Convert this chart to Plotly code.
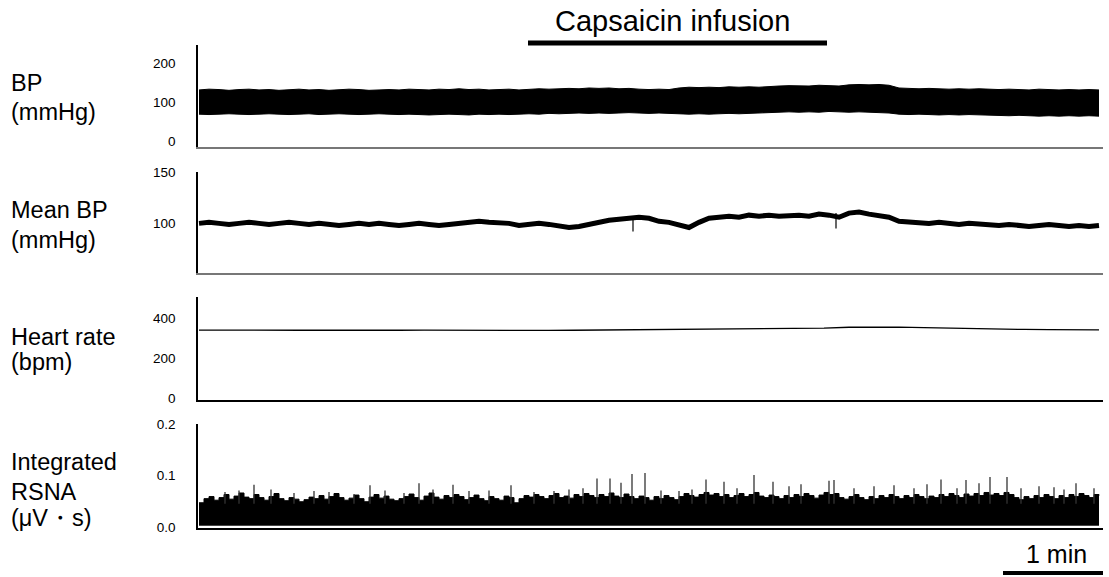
import plotly.graph_objects as go

W, H = 1109, 577
FONT = "Liberation Sans, Arial, sans-serif"

# ---------------- data ----------------
BP_STEP = 0.1  # min
BP_UPPER = [131, 133, 132, 130, 132, 133, 131, 132, 130, 132,
            133, 131, 132, 130, 131, 133, 132, 130, 131, 132,
            131, 133, 132, 131, 133, 132, 134, 132, 133, 131,
            132, 133, 131, 132, 134, 133, 134, 135, 134, 136,
            135, 136, 134, 135, 133, 132, 133, 132, 136, 138,
            137, 138, 137, 139, 138, 139, 138, 140, 141, 142,
            142, 141, 143, 142, 141, 144, 145, 144, 145, 143,
            136, 135, 134, 135, 134, 133, 134, 133, 134, 133,
            132, 133, 132, 131, 133, 132, 131, 132, 131, 132, 131]
BP_LOWER = [69, 68, 69, 70, 69, 68, 69, 70, 69, 68,
            69, 70, 68, 69, 70, 69, 68, 69, 70, 69,
            68, 69, 68, 67, 68, 69, 68, 67, 69, 68,
            69, 68, 69, 70, 69, 71, 70, 71, 72, 71,
            72, 71, 72, 73, 72, 71, 72, 71, 70, 69,
            70, 69, 70, 71, 70, 71, 72, 73, 74, 75,
            74, 75, 74, 76, 75, 74, 75, 74, 73, 72,
            69, 68, 69, 68, 67, 68, 67, 68, 67, 66,
            66, 65, 66, 65, 64, 65, 64, 65, 64, 65, 64]

MEAN_BP = [100, 101, 100, 99, 100, 101, 100, 99, 100, 101,
           100, 99, 100, 99, 98, 99, 100, 99, 100, 99,
           98, 99, 100, 99, 98, 99, 100, 101, 102, 101,
           101, 100, 98, 99, 100, 99, 97, 96, 97, 99,
           102, 103, 104, 105, 106, 105, 102, 101, 99, 96,
           101, 105, 106, 107, 106, 108, 107, 108, 107, 108,
           108, 107, 109, 108, 106, 110, 111, 109, 108, 106,
           102, 101, 100, 100, 101, 100, 99, 100, 99, 98,
           98, 99, 98, 97, 98, 99, 98, 97, 98, 97, 98]
MBP_SPIKE_T = [4.34, 6.37]
MBP_SPIKE_LO = [92, 95]
MBP_SPIKE_HI = [106, 110]

HR_STEP = 0.25
HEART_RATE = [341, 340, 340, 341, 340, 340, 339, 340, 340, 341, 340, 339,
              339, 340, 339, 340, 341, 341, 342, 343,
              344, 345, 346, 347, 349, 351, 355, 357,
              356, 353, 350, 347, 345, 344, 343, 342, 342]

RSNA_STEP = 0.05
RSNA_UPPER = [0.047, 0.055, 0.059, 0.052, 0.057, 0.063, 0.054, 0.060, 0.066, 0.058,
              0.055, 0.063, 0.057, 0.052, 0.059, 0.065, 0.055, 0.051, 0.057, 0.054,
              0.049, 0.053, 0.058, 0.055, 0.061, 0.054, 0.059, 0.065, 0.057, 0.052,
              0.056, 0.062, 0.055, 0.049, 0.058, 0.063, 0.056, 0.060, 0.054, 0.051,
              0.055, 0.059, 0.064, 0.057, 0.052, 0.060, 0.066, 0.058, 0.054, 0.061,
              0.057, 0.063, 0.059, 0.053, 0.057, 0.062, 0.055, 0.051, 0.059, 0.055,
              0.052, 0.060, 0.057, 0.047, 0.055, 0.061, 0.058, 0.063, 0.059, 0.055,
              0.061, 0.065, 0.057, 0.060, 0.056, 0.063, 0.059, 0.065, 0.061, 0.057,
              0.063, 0.059, 0.066, 0.060, 0.057, 0.064, 0.059, 0.055, 0.060, 0.057,
              0.052, 0.059, 0.055, 0.061, 0.057, 0.053, 0.059, 0.065, 0.061, 0.058,
              0.063, 0.067, 0.062, 0.065, 0.059, 0.063, 0.057, 0.061, 0.065, 0.059,
              0.063, 0.067, 0.060, 0.057, 0.062, 0.059, 0.055, 0.061, 0.057, 0.063,
              0.059, 0.065, 0.061, 0.056, 0.062, 0.067, 0.063, 0.065, 0.057, 0.054,
              0.059, 0.063, 0.057, 0.053, 0.059, 0.055, 0.061, 0.057, 0.063, 0.059,
              0.055, 0.061, 0.057, 0.063, 0.059, 0.055, 0.060, 0.057, 0.063, 0.059,
              0.065, 0.061, 0.057, 0.064, 0.060, 0.065, 0.061, 0.067, 0.062, 0.065,
              0.061, 0.067, 0.063, 0.057, 0.053, 0.059, 0.055, 0.061, 0.057, 0.063,
              0.059, 0.055, 0.061, 0.057, 0.063, 0.059, 0.065, 0.061, 0.057, 0.063,
              0.061]
RSNA_LOWER = 0.003
RSNA_SPIKE_BASE = 0.045
RSNA_SPIKE_T = [0.26, 0.40, 0.55, 0.72, 0.95, 1.15, 1.30, 1.55, 1.71, 1.86,
                2.05, 2.20, 2.34, 2.54, 2.70, 2.90, 3.12, 3.35, 3.55, 3.70,
                3.84, 3.98, 4.11, 4.22, 4.33, 4.46, 4.62, 4.80, 4.93, 5.07,
                5.25, 5.38, 5.55, 5.74, 5.90, 6.02, 6.30, 6.35, 6.55, 6.75,
                6.95, 7.15, 7.28, 7.42, 7.58, 7.67, 7.80, 7.91, 8.08, 8.22,
                8.40, 8.55, 8.65, 8.77, 8.95]
RSNA_SPIKE_V = [0.068, 0.071, 0.082, 0.073, 0.066, 0.070, 0.068, 0.064, 0.081, 0.071,
                0.066, 0.085, 0.073, 0.082, 0.070, 0.071, 0.081, 0.068, 0.070, 0.073,
                0.075, 0.094, 0.094, 0.086, 0.103, 0.105, 0.071, 0.070, 0.073, 0.092,
                0.088, 0.075, 0.101, 0.088, 0.079, 0.083, 0.090, 0.091, 0.075, 0.079,
                0.081, 0.075, 0.083, 0.092, 0.075, 0.091, 0.085, 0.097, 0.097, 0.075,
                0.079, 0.077, 0.073, 0.085, 0.075]

CAPSAICIN_START, CAPSAICIN_END = 3.29, 6.28
SCALE_BAR_MIN = 1.0

# axis settings
X_RANGE = [-0.01, 9.04]
Y_RANGES = [[-15, 246], [51.7, 150], [-8.5, 506], [-0.002, 0.2]]
Y_TICKS = [[0, 100, 200], [100, 150], [0, 200, 400], [0.0, 0.1, 0.2]]
Y_TICKTEXT = [["0", "100", "200"], ["100", "150"], ["0", "200", "400"], ["0.0", "0.1", "0.2"]]

# ---------------- figure ----------------
def times(n, step):
    return [round(i * step, 4) for i in range(n)]

fig = go.Figure()

t_bp = times(len(BP_UPPER), BP_STEP)
fig.add_trace(go.Scatter(x=t_bp, y=BP_LOWER, mode="lines", line=dict(color="black", width=1),
                         xaxis="x", yaxis="y", showlegend=False, hoverinfo="skip"))
fig.add_trace(go.Scatter(x=t_bp, y=BP_UPPER, mode="lines", line=dict(color="black", width=1),
                         fill="tonexty", fillcolor="black",
                         xaxis="x", yaxis="y", showlegend=False, hoverinfo="skip"))

t_mbp = times(len(MEAN_BP), BP_STEP)
fig.add_trace(go.Scatter(x=t_mbp, y=MEAN_BP, mode="lines", line=dict(color="black", width=5),
                         xaxis="x2", yaxis="y2", showlegend=False, hoverinfo="skip"))
sx, sy = [], []
for t, lo, hi in zip(MBP_SPIKE_T, MBP_SPIKE_LO, MBP_SPIKE_HI):
    sx += [t, t, None]
    sy += [lo, hi, None]
fig.add_trace(go.Scatter(x=sx, y=sy, mode="lines", line=dict(color="black", width=1.2),
                         xaxis="x2", yaxis="y2", showlegend=False, hoverinfo="skip"))

t_hr = times(len(HEART_RATE), HR_STEP)
fig.add_trace(go.Scatter(x=t_hr, y=HEART_RATE, mode="lines", line=dict(color="black", width=1.3),
                         xaxis="x3", yaxis="y3", showlegend=False, hoverinfo="skip"))

t_rs = times(len(RSNA_UPPER), RSNA_STEP)
fig.add_trace(go.Scatter(x=t_rs, y=[RSNA_LOWER] * len(t_rs), mode="lines",
                         line=dict(color="black", width=0.5),
                         xaxis="x4", yaxis="y4", showlegend=False, hoverinfo="skip"))
fig.add_trace(go.Scatter(x=t_rs, y=RSNA_UPPER, mode="lines", line=dict(color="black", width=1, shape="hv"),
                         fill="tonexty", fillcolor="black",
                         xaxis="x4", yaxis="y4", showlegend=False, hoverinfo="skip"))
rx, ry = [], []
for t, v in zip(RSNA_SPIKE_T, RSNA_SPIKE_V):
    rx += [t, t, None]
    ry += [RSNA_SPIKE_BASE, v, None]
fig.add_trace(go.Scatter(x=rx, y=ry, mode="lines", line=dict(color="#333", width=1.3),
                         xaxis="x4", yaxis="y4", showlegend=False, hoverinfo="skip"))

x_dom = [198 / W, 1103 / W]
panels_px = [(45, 147), (172, 273), (297, 400), (424, 528)]
xline_col = ["#777", "#777", "black", "black"]

layout = dict(width=W, height=H, margin=dict(l=0, r=0, t=0, b=0, pad=0, autoexpand=False),
              paper_bgcolor="white", plot_bgcolor="white",
              font=dict(family=FONT, color="black"), showlegend=False)
for i, (top, bot) in enumerate(panels_px):
    sfx = "" if i == 0 else str(i + 1)
    layout["xaxis" + sfx] = dict(domain=x_dom, range=X_RANGE, anchor="y" + sfx, automargin=False,
                                 showline=True, linecolor=xline_col[i], linewidth=2,
                                 showgrid=False, zeroline=False, showticklabels=False, ticks="")
    layout["yaxis" + sfx] = dict(domain=[1 - bot / H, 1 - top / H], range=Y_RANGES[i],
                                 anchor="x" + sfx, automargin=False,
                                 showline=True, linecolor="black", linewidth=1.5,
                                 showgrid=False, zeroline=False, ticks="",
                                 tickvals=Y_TICKS[i], ticktext=Y_TICKTEXT[i],
                                 ticklabelstandoff=18,
                                 tickfont=dict(family=FONT, size=13.5, color="black"))
fig.update_layout(**layout)

# left labels
labels = [("BP", 83), ("(mmHg)", 112), ("Mean BP", 210), ("(mmHg)", 240),
          ("Heart rate", 337), ("(bpm)", 362), ("Integrated", 462), ("RSNA", 492), ("(μV・s)", 518)]
for txt, ypx in labels:
    fig.add_annotation(text=txt, x=9 / W, y=1 - ypx / H, xref="paper", yref="paper",
                       xanchor="left", yanchor="middle", showarrow=False,
                       font=dict(family=FONT, size=23.5, color="black"))

# Capsaicin infusion bar + title
fig.add_shape(type="line", xref="x", yref="paper", x0=CAPSAICIN_START, x1=CAPSAICIN_END,
              y0=1 - 43 / H, y1=1 - 43 / H, line=dict(color="black", width=5))
fig.add_annotation(text="Capsaicin infusion", x=(CAPSAICIN_START + CAPSAICIN_END) / 2,
                   y=1 - 21 / H, xref="x", yref="paper", xanchor="center", yanchor="middle",
                   xshift=-5, showarrow=False, font=dict(family=FONT, size=29, color="black"))

# 1 min scale bar
sb_end = X_RANGE[1]
fig.add_shape(type="line", xref="x4", yref="paper", x0=sb_end - SCALE_BAR_MIN, x1=sb_end,
              y0=1 - 573 / H, y1=1 - 573 / H, line=dict(color="black", width=4))
fig.add_annotation(text="1 min", x=sb_end - SCALE_BAR_MIN / 2, y=1 - 554 / H, xref="x4", yref="paper",
                   xanchor="center", yanchor="middle", xshift=3, showarrow=False,
                   font=dict(family=FONT, size=25, color="black"))

fig.write_html("out.html")
